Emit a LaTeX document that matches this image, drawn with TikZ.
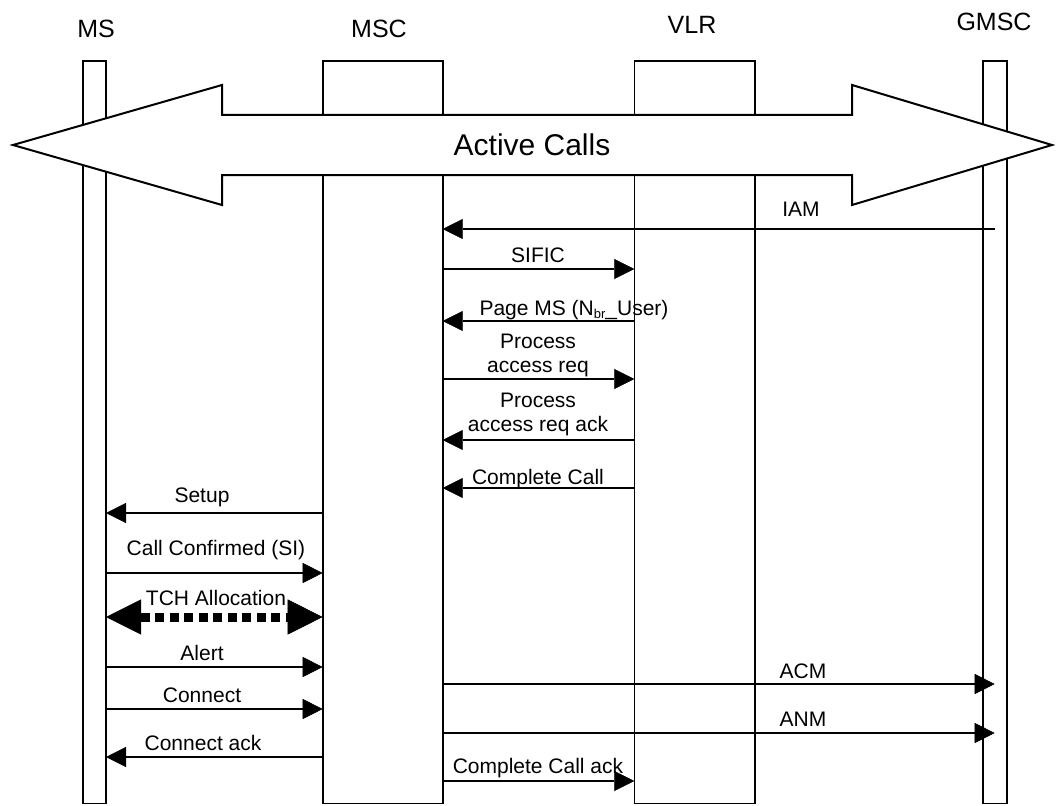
\documentclass[tikz,border=0pt]{standalone}
\usepackage{fontspec}
\setmainfont{Liberation Sans}
\usetikzlibrary{arrows.meta}
\begin{document}
\begin{tikzpicture}[x=1pt,y=-1pt,
  life/.style={draw, line width=1.6pt, inner sep=0pt, outer sep=0pt, minimum height=742.3pt},
  msg/.style={line width=2pt, -{Triangle[length=20pt,width=20pt,line width=0.5pt]}},
  tch/.style={line width=9pt, dash pattern=on 9pt off 5.5pt,
    {Triangle[length=35pt,width=35pt,line width=0.5pt]}-{Triangle[length=35pt,width=35pt,line width=0.5pt]}},
  lbl/.style={font=\fontsize{21}{24}\selectfont, inner sep=0pt, anchor=base},
  lbl2/.style={font=\fontsize{21}{24}\selectfont, inner sep=0pt, anchor=south, align=center},
  hdr/.style={font=\fontsize{25}{30}\selectfont, inner sep=0pt},
  bigarrow/.style={line width=2pt, fill=white, line join=miter}
]
\useasboundingbox (0,0) rectangle (1056,805);

% headers
\node[hdr] (hMS) at (96,29) {MS};
\node[hdr] (hMSC) at (379,29) {MSC};
\node[hdr] (hVLR) at (692,25) {VLR};
\node[hdr] (hGMSC) at (994,22) {GMSC};

% lifelines
\node[life, minimum width=23.3pt] (ms) at (94.35,432.15) {};
\node[life, minimum width=120pt] (msc) at (382.7,432.15) {};
\node[life, minimum width=120.7pt] (vlr) at (694.65,432.15) {};
\node[life, minimum width=24pt] (gmsc) at (994.7,432.15) {};

% big double arrow
\draw[bigarrow] (13,145) -- (222,85) -- (222,115) -- (852,115) -- (852,85) -- (1052,145)
  -- (852,205) -- (852,175) -- (222,175) -- (222,205) -- cycle;
\node[font=\fontsize{30}{36}\selectfont, inner sep=0pt] (ac) at (532,145) {Active Calls};

% messages
\draw[msg] (gmsc.center |- 0,229) -- (msc.east |- 0,229);
\node[lbl] (lIAM) at (801,216) {IAM};

\draw[msg] (msc.east |- 0,269) -- (vlr.west |- 0,269);
\node[lbl] (lSIFIC) at (538,262) {SIFIC};

\draw[msg] (vlr.west |- 0,321) -- (msc.east |- 0,321);
\node[lbl] (lPage) at (574,315) {Page MS (N\raisebox{-3.5pt}{\fontsize{13}{13}\selectfont br}\_User)};

\draw[msg] (msc.east |- 0,379) -- (vlr.west |- 0,379);
\node[lbl2] (lPar) at (538,377.5) {Process\\access req};

\draw[msg] (vlr.west |- 0,440) -- (msc.east |- 0,440);
\node[lbl2] (lPara) at (538,436.5) {Process\\access req ack};

\draw[msg] (vlr.west |- 0,488) -- (msc.east |- 0,488);
\node[lbl] (lCC) at (538,484) {Complete Call};

\draw[msg] (msc.west |- 0,513) -- (ms.east |- 0,513);
\node[lbl] (lSetup) at (202,502) {Setup};

\draw[msg] (ms.east |- 0,573) -- (msc.west |- 0,573);
\node[lbl] (lCCSI) at (216,555) {Call Confirmed (SI)};

\draw[tch] (ms.east |- 0,617) -- (msc.west |- 0,617);
\node[lbl] (lTCH) at (216,605) {TCH Allocation};

\draw[msg] (ms.east |- 0,667) -- (msc.west |- 0,667);
\node[lbl] (lAlert) at (202,660) {Alert};

\draw[msg] (ms.east |- 0,709) -- (msc.west |- 0,709);
\node[lbl] (lConn) at (202,702) {Connect};

\draw[msg] (msc.west |- 0,757) -- (ms.east |- 0,757);
\node[lbl] (lConnAck) at (203,750) {Connect ack};

\draw[msg] (msc.east |- 0,684) -- (gmsc.center |- 0,684);
\node[lbl] (lACM) at (803,678) {ACM};

\draw[msg] (msc.east |- 0,733) -- (gmsc.center |- 0,733);
\node[lbl] (lANM) at (803,726) {ANM};

\draw[msg] (msc.east |- 0,781) -- (vlr.west |- 0,781);
\node[lbl] (lCCA) at (538,773) {Complete Call ack};
\end{tikzpicture}
\end{document}
